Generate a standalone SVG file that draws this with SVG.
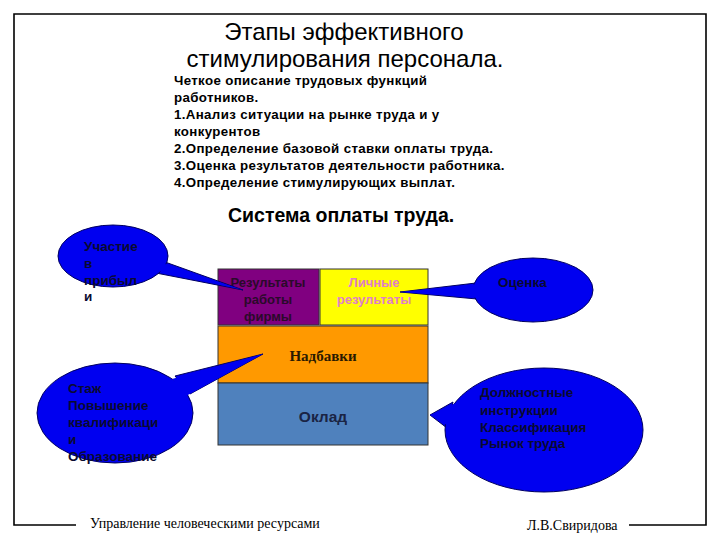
<svg xmlns="http://www.w3.org/2000/svg" width="720" height="540" viewBox="0 0 720 540">
<style>
.frame{fill:none;stroke:#000;stroke-width:1.6}
.title{font-family:"Liberation Sans",Arial,sans-serif;font-size:24px;fill:#000;text-anchor:middle}
.body{font-family:"Liberation Sans",Arial,sans-serif;font-size:13.3px;font-weight:bold;fill:#000;letter-spacing:0.35px}
.sub{font-family:"Liberation Sans",Arial,sans-serif;font-size:19.5px;font-weight:bold;fill:#000}
.box{stroke:#333;stroke-width:1}
.btxt{font-family:"Liberation Sans",Arial,sans-serif;font-size:13px;font-weight:bold;text-anchor:middle}
.call{fill:#0000f0;stroke:#000060;stroke-width:1}
.wedge{fill:#0000f0}
.ctxt{font-family:"Liberation Sans",Arial,sans-serif;font-size:13.5px;font-weight:bold;fill:#0a0a30}
.foot{font-family:"Liberation Serif","Times New Roman",serif;font-size:14px;fill:#000}
</style>
<rect width="720" height="540" fill="#fff"/>
<g id="frame">
<path class="frame" d="M76 525 H14 V14 H706 V525 H629"/>
</g>
<g id="title">
<text class="title" x="344" y="40">Этапы эффективного</text>
<text class="title" x="345" y="67">стимулирования персонала.</text>
</g>
<g id="steps">
<text class="body" x="174" y="85">Четкое описание трудовых функций</text>
<text class="body" x="174" y="102">работников.</text>
<text class="body" x="174" y="119">1.Анализ ситуации на рынке труда и у</text>
<text class="body" x="174" y="136">конкурентов</text>
<text class="body" x="174" y="153">2.Определение базовой ставки оплаты труда.</text>
<text class="body" x="174" y="170">3.Оценка результатов деятельности работника.</text>
<text class="body" x="174" y="187">4.Определение стимулирующих выплат.</text>
</g>
<g id="subtitle">
<text class="sub" x="228" y="222">Система оплаты труда.</text>
</g>
<g id="box-firm">
<rect class="box" x="218" y="269" width="101" height="56" fill="#800080"/>
<text class="btxt" fill="#2a0a2a" x="268" y="287">Результаты</text>
<text class="btxt" fill="#2a0a2a" x="268" y="304">работы</text>
<text class="btxt" fill="#2a0a2a" x="268" y="321">фирмы</text>
</g>
<g id="box-personal">
<rect class="box" x="320" y="269" width="108" height="56" fill="#ffff00"/>
<text class="btxt" fill="#e080c8" x="374" y="287">Личные</text>
<text class="btxt" fill="#e080c8" x="374" y="304">результаты</text>
</g>
<g id="box-bonus">
<rect class="box" x="218" y="326" width="210" height="57" fill="#ff9900"/>
<text x="323" y="361" text-anchor="middle" font-family="Liberation Serif,'Times New Roman',serif" font-size="15" font-weight="bold" fill="#2a1a00">Надбавки</text>
</g>
<g id="box-salary">
<rect class="box" x="218" y="383" width="210" height="62" fill="#4f81bd"/>
<text x="323" y="422" text-anchor="middle" font-family="Liberation Sans,Arial,sans-serif" font-size="15.5" font-weight="bold" fill="#1a2444">Оклад</text>
</g>
<g id="connectors"></g>
<g id="callout-profit">
<path class="call" d="M165 262 L243 290 L156 273 Z"/>
<ellipse class="call" cx="113" cy="256" rx="55" ry="31"/>
<path class="wedge" d="M162 263 L243 290 L158 271 Z"/>
<text class="ctxt" x="84" y="251">Участие</text>
<text class="ctxt" x="84" y="268">в</text>
<text class="ctxt" x="84" y="285">прибыл</text>
<text class="ctxt" x="84" y="301">и</text>
</g>
<g id="callout-eval">
<path class="call" d="M476 283 L400 292 L477 299 Z"/>
<ellipse class="call" cx="533" cy="290" rx="60" ry="32"/>
<path class="wedge" d="M479 284 L400 292 L480 298 Z"/>
<text class="ctxt" x="498" y="287">Оценка</text>
</g>
<g id="callout-exp">
<path class="call" d="M175 376 L263 354 L190 394 Z"/>
<ellipse class="call" cx="115" cy="413" rx="78" ry="50"/>
<path class="wedge" d="M172 379 L263 354 L186 396 Z"/>
<text class="ctxt" x="68" y="393">Стаж</text>
<text class="ctxt" x="68" y="410">Повышение</text>
<text class="ctxt" x="68" y="427">квалификаци</text>
<text class="ctxt" x="68" y="444">и</text>
<text class="ctxt" x="68" y="461">Образование</text>
</g>
<g id="callout-job">
<path class="call" d="M453 402 L430 415 L447 428 Z"/>
<ellipse class="call" cx="544" cy="430" rx="99" ry="62"/>
<path class="wedge" d="M456 403 L430 415 L450 427 Z"/>
<text class="ctxt" x="480" y="397">Должностные</text>
<text class="ctxt" x="480" y="415">инструкции</text>
<text class="ctxt" x="480" y="432">Классификация</text>
<text class="ctxt" x="480" y="448">Рынок труда</text>
</g>
<g id="footer">
<text class="foot" x="90" y="528">Управление человеческими ресурсами</text>
<text class="foot" x="527" y="530">Л.В.Свиридова</text>
</g>
</svg>
